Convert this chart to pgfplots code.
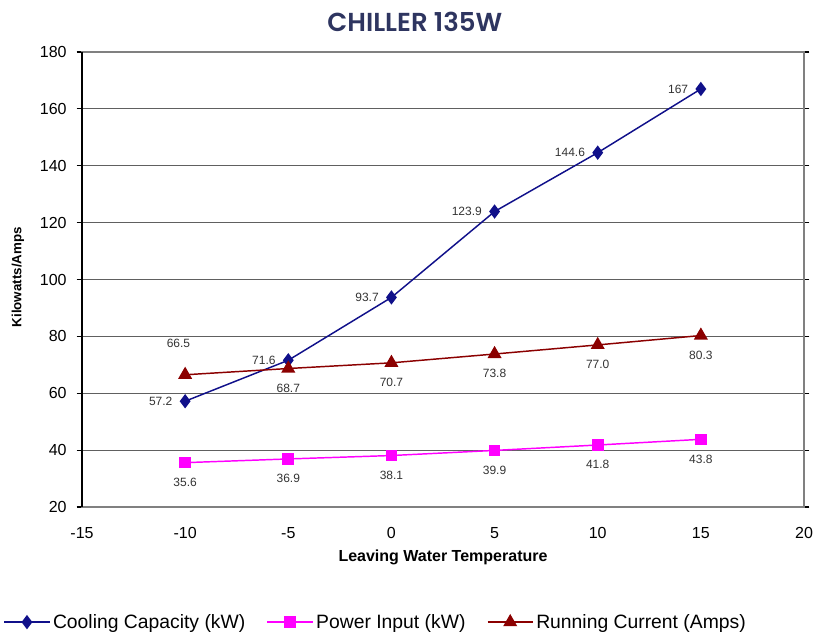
\documentclass[border=0pt]{standalone}
\usepackage{pgfplots}
\pgfplotsset{compat=1.18}
\usepackage{fontspec}
\setmainfont{Liberation Sans}
\newfontfamily\titlefont{Poppins SemiBold}
\definecolor{titleblue}{HTML}{2E3560}
\definecolor{cool}{HTML}{10108A}
\definecolor{power}{HTML}{FF00FF}
\definecolor{amps}{HTML}{8B0000}
\definecolor{gridgray}{HTML}{606060}

\begin{document}
\begin{tikzpicture}
\useasboundingbox (-61.5pt,-94.5pt) rectangle (550.5pt,380.25pt);
\begin{axis}[
    at={(0,0)}, anchor=south west,
    scale only axis,
    width=541.5pt, height=341.25pt,
    xmin=-15, xmax=20, ymin=20, ymax=180,
    xtick={-15,-10,...,20},
    ytick={20,40,...,180},
    /pgf/number format/assume math mode=true,
    ticklabel style={font=\fontsize{12}{14}\selectfont},
    xtick style={draw=none},
    ytick style={black, thick},
    tick align=outside,
    major tick length=4pt,
    xticklabel style={yshift=-8pt},
    yticklabel style={xshift=-4pt},
    ymajorgrids,
    grid style={gridgray, line width=0.8pt},
    axis line style={gray, line width=1.2pt},
    every axis x label/.style={at={(axis description cs:0.5,0)}, yshift=-37.5pt, anchor=center},
    every axis y label/.style={at={(axis description cs:0,0.505)}, xshift=-48pt, rotate=90, anchor=center},
    xlabel={\bfseries\fontsize{12}{14}\selectfont Leaving Water Temperature},
    ylabel={\bfseries\fontsize{10}{12}\selectfont Kilowatts/Amps},
    clip=false,
    legend columns=3,
    legend style={at={(axis description cs:-0.109,-0.253)}, anchor=west, draw=none, fill=none,
        font=\fontsize{14.5}{16}\selectfont, inner sep=0pt,
        /tikz/every even column/.append style={column sep=14pt}},
    legend image code/.code={\draw[mark repeat=2, mark phase=2] plot coordinates {(0pt,0pt) (17pt,0pt) (34pt,0pt)};},
    nodes near coords={\pgfplotspointmeta},
    point meta=explicit symbolic,
    every node near coord/.append style={font=\fontsize{9}{10}\selectfont, color=black!80, inner sep=0pt},
]
% Cooling Capacity
\addplot[cool, line width=1.1pt, mark=diamond*, mark size=4.5pt,
    nodes near coords style={anchor=east, xshift=-9pt, yshift=0pt}]
    coordinates {(-10,57.2)[57.2] (-5,71.6)[71.6] (0,93.7)[93.7] (5,123.9)[123.9] (10,144.6)[144.6] (15,167)[167]};
\addlegendentry{Cooling Capacity (kW)}
% Power Input
\addplot[power, line width=1.1pt, mark=square*, mark size=3.8pt,
    nodes near coords style={anchor=north, yshift=-11pt}]
    coordinates {(-10,35.6)[35.6] (-5,36.9)[36.9] (0,38.1)[38.1] (5,39.9)[39.9] (10,41.8)[41.8] (15,43.8)[43.8]};
\addlegendentry{Power Input (kW)}
% Running Current
\addplot[amps, line width=1.1pt, mark=triangle*, mark size=5pt,
    nodes near coords style={anchor=north, yshift=-11pt}]
    coordinates {(-10,66.5)[] (-5,68.7)[68.7] (0,70.7)[70.7] (5,73.8)[73.8] (10,77.0)[77.0] (15,80.3)[80.3]};
\addlegendentry{Running Current (Amps)}
% label above the first running-current point
\addplot[draw=none, forget plot, nodes near coords style={anchor=south, yshift=20pt, xshift=-5pt}]
    coordinates {(-10,66.5)[66.5]};
% black left axis line, as in the original
\draw[black, line width=1.2pt] (rel axis cs:0,0) -- (rel axis cs:0,1);
\node[font=\titlefont\fontsize{19.5}{22}\selectfont, text=titleblue]
    at (axis description cs:0.461,1) [yshift=22.5pt] {CHILLER 135W};
\end{axis}
\end{tikzpicture}
\end{document}
